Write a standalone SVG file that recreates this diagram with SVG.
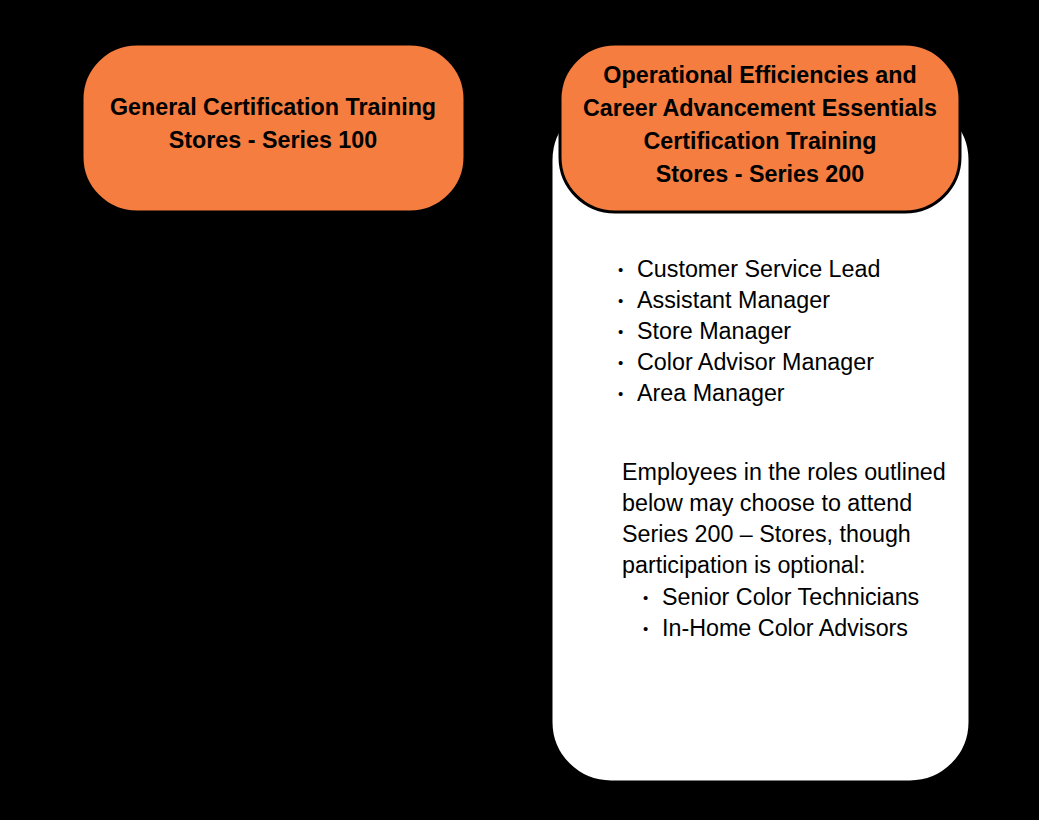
<svg xmlns="http://www.w3.org/2000/svg" width="1039" height="820" viewBox="0 0 1039 820">
<style>
.box{stroke:#000;stroke-width:3}
.orange{fill:#F47D3F}
.white{fill:#fff}
.title{font-family:"Liberation Sans",Arial,sans-serif;font-weight:bold;font-size:23.3px;fill:#000;text-anchor:middle}
.body{font-family:"Liberation Sans",Arial,sans-serif;font-size:23.3px;fill:#000}
.bullet{font-size:15px}
</style>
<rect x="0" y="0" width="1039" height="820" fill="#000"/>
<g id="series200-detail">
<rect class="box white" x="551" y="100" width="419" height="682" rx="60" ry="60"/>
<g class="body">
<text class="bullet" x="618" y="275">•</text><text x="637" y="277">Customer Service Lead</text>
<text class="bullet" x="618" y="306">•</text><text x="637" y="308">Assistant Manager</text>
<text class="bullet" x="618" y="337">•</text><text x="637" y="339">Store Manager</text>
<text class="bullet" x="618" y="368">•</text><text x="637" y="370">Color Advisor Manager</text>
<text class="bullet" x="618" y="399">•</text><text x="637" y="401">Area Manager</text>
<text x="622" y="480">Employees in the roles outlined</text>
<text x="622" y="511">below may choose to attend</text>
<text x="622" y="542">Series 200 – Stores, though</text>
<text x="622" y="573">participation is optional:</text>
<text class="bullet" x="643" y="603">•</text><text x="662" y="605">Senior Color Technicians</text>
<text class="bullet" x="643" y="634">•</text><text x="662" y="636">In-Home Color Advisors</text>
</g>
</g>
<g id="series100">
<rect class="box orange" x="82" y="44" width="383" height="168" rx="55" ry="55"/>
<text class="title" x="273" y="115">General Certification Training</text>
<text class="title" x="273" y="148">Stores - Series 100</text>
</g>
<g id="series200">
<rect class="box orange" x="560" y="44" width="400" height="168" rx="55" ry="55"/>
<text class="title" x="760" y="83">Operational Efficiencies and</text>
<text class="title" x="760" y="116">Career Advancement Essentials</text>
<text class="title" x="760" y="149">Certification Training</text>
<text class="title" x="760" y="182">Stores - Series 200</text>
</g>
<g id="connectors"></g>
</svg>
